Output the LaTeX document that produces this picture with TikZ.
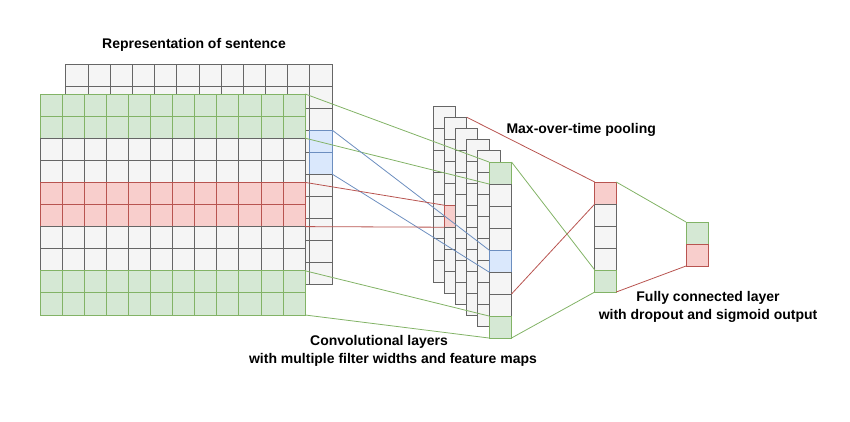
\documentclass[tikz,border=0pt]{standalone}
\usepackage{fontspec}
\setmainfont{Liberation Sans}
\usetikzlibrary{positioning}
\definecolor{cngray}{HTML}{F5F5F5}
\definecolor{cnline}{HTML}{666666}
\definecolor{cngreen}{HTML}{82B366}
\definecolor{cngreenfill}{HTML}{D5E8D4}
\definecolor{cnred}{HTML}{B85450}
\definecolor{cnredfill}{HTML}{F8CECC}
\definecolor{cnblue}{HTML}{6C8EBF}
\definecolor{cnbluefill}{HTML}{DAE8FC}
\begin{document}
\begin{tikzpicture}[
  x=1pt, y=-1pt,
  every node/.style={font=\fontsize{14}{18}\selectfont\bfseries},
  cell/.style={rectangle, draw=cnline, fill=cngray, line width=1pt, inner sep=0pt, outer sep=0pt, minimum width=22pt, minimum height=22pt},
  gcell/.style={cell, draw=cngreen, fill=cngreenfill},
  rcell/.style={cell, draw=cnred, fill=cnredfill},
  bcell/.style={cell, draw=cnblue, fill=cnbluefill},
  link/.style={line width=0.8pt},
  % coloured cells
  back-4-12/.style={bcell},
  back-5-12/.style={bcell},
  pick-2-5/.style={rcell},
  pick-6-1/.style={gcell},
  pick-6-5/.style={bcell},
  pick-6-8/.style={gcell},
]
\useasboundingbox (0,0) rectangle (850,421);

% Sentence matrix: back layer
\foreach \r in {1,...,10}
  \foreach \c in {1,...,12}
    \node[cell, back-\r-\c/.try, minimum width=22.2pt] (b-\r-\c) at ({66+22.17*(\c-0.5)}, {64+22*(\r-0.5)}) {};

% Sentence matrix: front layer
\foreach \r/\st in {1/gcell,2/gcell,3/cell,4/cell,5/rcell,6/rcell,7/cell,8/cell,9/gcell,10/gcell}
  \foreach \c in {1,...,12}
    \node[\st, minimum width=22.1pt, minimum height=22.1pt] (s-\r-\c) at ({40+22.1*(\c-0.5)}, {94+22.1*(\r-0.5)}) {};

% Feature maps
\foreach \k in {1,...,6}
  \foreach \i in {1,...,8}
    \node[cell, pick-\k-\i/.try, minimum width=22.5pt] (f\k-\i) at ({444.25+11.2*(\k-1)}, {106+11.2*(\k-1)+22*(\i-0.5)}) {};

% Pooled vector and output
\foreach \i/\st in {1/rcell,2/cell,3/cell,4/cell,5/gcell}
  \node[\st, minimum width=21.5pt] (p-\i) at (605.5, {182+22*(\i-0.5)}) {};
\foreach \i/\st in {1/gcell,2/rcell}
  \node[\st] (o-\i) at (697, {222+22*(\i-0.5)}) {};

% Filters
\draw[link, cngreen] (s-1-12.north east) -- (f6-1.north west);
\draw[link, cngreen] (s-2-12.south east) -- (f6-1.south west);
\draw[link, cngreen] (s-9-12.north east) -- (f6-8.north west);
\draw[link, cngreen] (s-10-12.south east) -- (f6-8.south west);
\draw[link, cnblue] (b-4-12.north east) -- (f6-5.north west);
\draw[link, cnblue] (b-5-12.south east) -- (f6-5.south west);
\draw[link, cnred] (s-5-12.north east) -- (f2-5.north west);
\draw[link, cnred] (s-6-12.south east) -- (f2-5.south west);

% Pooling
\draw[link, cnred] (f2-1.north east) -- (p-1.north west);
\draw[link, cnred] (f6-6.south east) -- (p-1.south west);
\draw[link, cngreen] (f6-1.north east) -- (p-5.north west);
\draw[link, cngreen] (f6-8.south east) -- (p-5.south west);

% Fully connected
\draw[link, cngreen] (p-1.north east) -- (o-1.north west);
\draw[link, cnred] (p-5.south east) -- (o-2.south west);

% Labels
\node (title) at (194,45) {Representation of sentence};
\node[anchor=west] (pooling) at (503,130) {Max-over-time pooling};
\node (conv-a) at (379,342) {Convolutional layers};
\node (conv-b) at (393,360) {with multiple filter widths and feature maps};
\node[align=center] (fc) at (708,307) {Fully connected layer\\with dropout and sigmoid output};

\end{tikzpicture}
\end{document}
